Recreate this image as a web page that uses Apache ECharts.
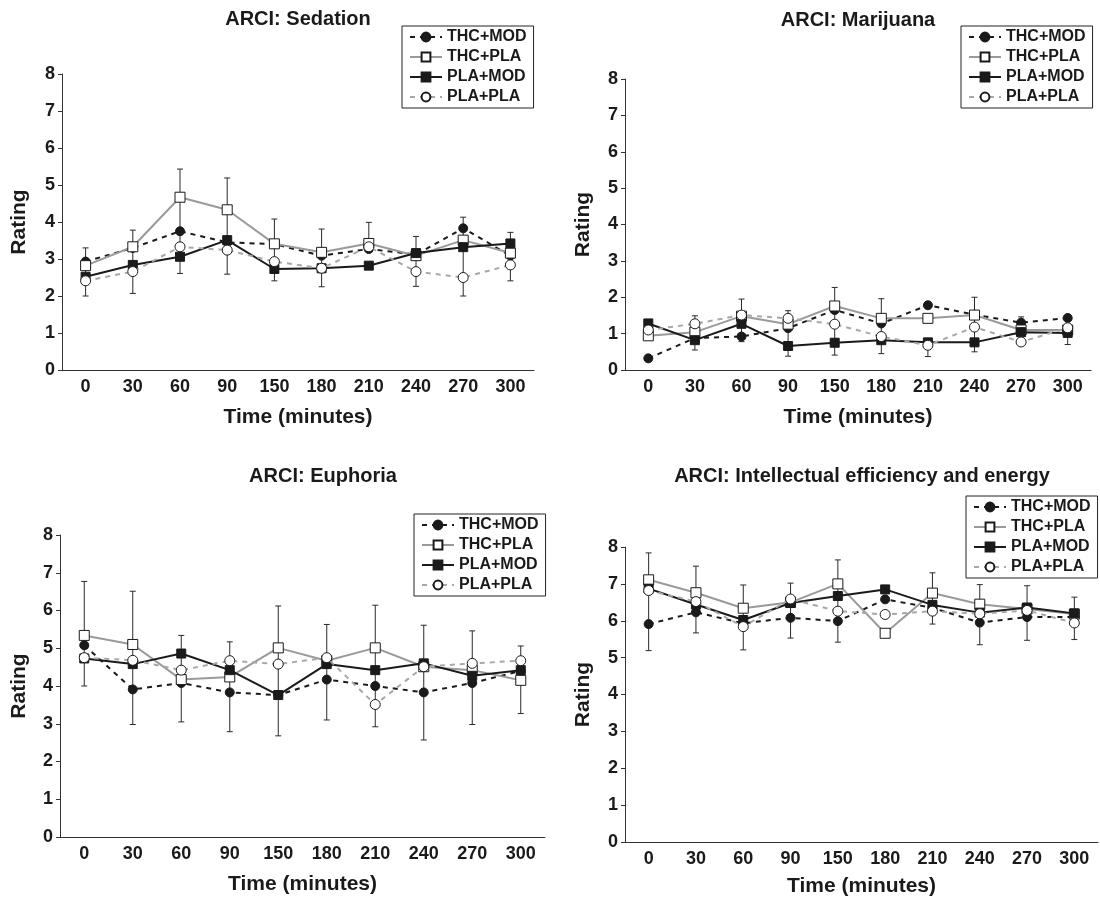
<!DOCTYPE html>
<html>
<head>
<meta charset="utf-8">
<script src="https://cdn.jsdelivr.net/npm/echarts@6/dist/echarts.min.js"></script>
<style>
  html, body { margin: 0; padding: 0; background: #fff; }
  #chart { width: 1100px; height: 900px; }
</style>
</head>
<body>
<div id="chart"></div>
<script>
// time points (minutes)
const times = ['0', '30', '60', '90', '150', '180', '210', '240', '270', '300']
const groups = ['THC+MOD', 'THC+PLA', 'PLA+MOD', 'PLA+PLA']
const panelTitles = ['ARCI: Sedation', 'ARCI: Marijuana', 'ARCI: Euphoria', 'ARCI: Intellectual efficiency and energy']
const yTicks = [0, 8, 1] // min, max, interval

// Sedation
const sedThcMod = [2.93, 3.30, 3.75, 3.45, 3.40, 3.09, 3.27, 3.12, 3.83, 3.09]
const sedThcPla = [2.82, 3.33, 4.67, 4.33, 3.41, 3.18, 3.42, 3.09, 3.51, 3.16]
const sedPlaMod = [2.52, 2.84, 3.06, 3.51, 2.73, 2.75, 2.82, 3.16, 3.32, 3.42]
const sedPlaPla = [2.41, 2.66, 3.33, 3.24, 2.93, 2.75, 3.33, 2.66, 2.50, 2.84]
const sedErrTop = [3.30, 3.78, 5.43, 5.19, 4.08, 3.81, 3.99, 3.61, 4.13, 3.72]
const sedErrBottom = [2.00, 2.07, 2.61, 2.59, 2.41, 2.25, null, 2.26, 2.00, 2.41]

// Marijuana
const marThcMod = [0.32, 0.88, 0.92, 1.15, 1.65, 1.28, 1.78, 1.52, 1.30, 1.43]
const marThcPla = [0.94, 1.04, 1.48, 1.26, 1.76, 1.42, 1.42, 1.51, 1.10, 1.10]
const marPlaMod = [1.28, 0.82, 1.27, 0.66, 0.75, 0.82, 0.76, 0.76, 1.04, 1.02]
const marPlaPla = [1.10, 1.27, 1.51, 1.42, 1.26, 0.92, 0.68, 1.18, 0.77, 1.16]
const marErrTop = [null, 1.49, 1.95, 1.63, 2.27, 1.96, null, 2.00, 1.46, null]
const marErrBottom = [null, 0.55, 0.78, 0.38, 0.41, 0.45, 0.37, 0.50, null, 0.70]

// Euphoria
const eupThcMod = [5.08, 3.91, 4.08, 3.83, 3.76, 4.17, 4.00, 3.83, 4.08, 4.40]
const eupThcPla = [5.34, 5.10, 4.17, 4.24, 5.01, 4.67, 5.01, 4.51, 4.42, 4.15]
const eupPlaMod = [4.73, 4.58, 4.86, 4.42, 3.76, 4.58, 4.42, 4.60, 4.27, 4.42]
const eupPlaPla = [4.75, 4.68, 4.42, 4.67, 4.58, 4.75, 3.51, 4.51, 4.60, 4.67]
const eupErrTop = [6.77, 6.51, 5.34, 5.17, 6.12, 5.63, 6.14, 5.61, 5.46, 5.06]
const eupErrBottom = [4.00, 2.98, 3.05, 2.79, 2.68, 3.10, 2.92, 2.57, 2.98, 3.27]

// Intellectual efficiency and energy
const ieeThcMod = [5.91, 6.23, 5.93, 6.08, 5.99, 6.58, 6.35, 5.95, 6.10, 6.10]
const ieeThcPla = [7.11, 6.76, 6.34, 6.50, 7.00, 5.66, 6.75, 6.45, 6.32, 6.18]
const ieePlaMod = [6.87, 6.44, 6.02, 6.48, 6.67, 6.85, 6.43, 6.22, 6.36, 6.20]
const ieePlaPla = [6.82, 6.52, 5.84, 6.59, 6.26, 6.17, 6.26, 6.19, 6.28, 5.94]
const ieeErrTop = [7.84, 7.48, 6.97, 7.02, 7.65, null, 7.30, 6.98, 6.95, 6.64]
const ieeErrBottom = [5.19, 5.67, 5.21, 5.53, 5.42, null, 5.91, 5.35, 5.47, 5.49]

const FONT = "'Liberation Sans', Arial, sans-serif"
const INK = '#1a1a1a'

const panels = [
  {
    series: [sedThcMod, sedThcPla, sedPlaMod, sedPlaPla], top: sedErrTop, bottom: sedErrBottom,
    grid: { left: 62, top: 74, width: 472, height: 296 },
    title: { x: 298, y: 9 }, legend: { left: 402, top: 26 },
    yGap: 32, xGap: 37,
  },
  {
    series: [marThcMod, marThcPla, marPlaMod, marPlaPla], top: marErrTop, bottom: marErrBottom,
    grid: { left: 625, top: 79, width: 466, height: 291 },
    title: { x: 858, y: 10 }, legend: { left: 961, top: 26 },
    yGap: 31, xGap: 37,
  },
  {
    series: [eupThcMod, eupThcPla, eupPlaMod, eupPlaPla], top: eupErrTop, bottom: eupErrBottom,
    grid: { left: 60, top: 535, width: 485, height: 302 },
    title: { x: 323, y: 466 }, legend: { left: 414, top: 514 },
    yGap: 30, xGap: 37,
  },
  {
    series: [ieeThcMod, ieeThcPla, ieePlaMod, ieePlaPla], top: ieeErrTop, bottom: ieeErrBottom,
    grid: { left: 625, top: 547, width: 473, height: 295 },
    title: { x: 862, y: 466 }, legend: { left: 966, top: 496 },
    yGap: 31, xGap: 34,
  },
]

// line + marker look of each group
const groupStyles = [
  { symbol: 'circle', symbolSize: 9, fill: INK, line: INK, dash: [5, 5] },
  { symbol: 'rect', symbolSize: 10, fill: '#fff', line: '#9a9a9a', dash: 'solid' },
  { symbol: 'rect', symbolSize: 9, fill: INK, line: INK, dash: 'solid' },
  { symbol: 'circle', symbolSize: 10, fill: '#fff', line: '#a8a8a8', dash: [5, 5] },
]

// an error bar runs from its cap to the point it belongs to
const buildErrors = (seriesList, tops, bottoms) => {
  const out = []
  times.forEach((t, i) => {
    const vals = seriesList.map((s) => s[i])
    const top = tops[i]
    const bottom = bottoms[i]
    if (top == null && bottom == null) return
    const hi = top != null ? top : Math.min(...vals)
    const lo = bottom != null ? bottom : Math.max(...vals)
    out.push([i, lo, hi, bottom != null ? 1 : 0, top != null ? 1 : 0])
  })
  return out
}

const renderError = (params, api) => {
  const i = api.value(0)
  const lo = api.coord([i, api.value(1)])
  const hi = api.coord([i, api.value(2)])
  const style = { stroke: '#2a2a2a', lineWidth: 1 }
  const children = [
    { type: 'line', shape: { x1: lo[0], y1: lo[1], x2: hi[0], y2: hi[1] }, style },
  ]
  if (api.value(3)) {
    children.push({ type: 'line', shape: { x1: lo[0] - 3, y1: lo[1], x2: lo[0] + 3, y2: lo[1] }, style })
  }
  if (api.value(4)) {
    children.push({ type: 'line', shape: { x1: hi[0] - 3, y1: hi[1], x2: hi[0] + 3, y2: hi[1] }, style })
  }
  return { type: 'group', children }
}

const axisText = { color: INK, fontFamily: FONT, fontWeight: 'bold' }

const option = {
  animation: false,
  backgroundColor: '#fff',
  title: panels.map((p, k) => ({
    text: panelTitles[k],
    left: p.title.x,
    top: p.title.y,
    textAlign: 'center',
    padding: 0,
    textStyle: { ...axisText, fontSize: 20 },
  })),
  legend: panels.map((p) => ({
    orient: 'vertical',
    left: p.legend.left,
    top: p.legend.top,
    data: groups,
    itemWidth: 32,
    itemHeight: 11,
    itemGap: 4,
    padding: [3, 7, 3, 7],
    borderColor: '#222',
    borderWidth: 1,
    backgroundColor: '#fff',
    selectedMode: false,
    textStyle: { ...axisText, fontSize: 16 },
  })),
  grid: panels.map((p) => p.grid),
  xAxis: panels.map((p, k) => ({
    type: 'category',
    gridIndex: k,
    data: times,
    name: 'Time (minutes)',
    nameLocation: 'middle',
    nameGap: p.xGap,
    nameTextStyle: { ...axisText, fontSize: 21 },
    axisLine: { lineStyle: { color: '#333', width: 1 } },
    axisTick: { length: 5, lineStyle: { color: '#333' } },
    axisLabel: { ...axisText, fontSize: 18, margin: 8 },
  })),
  yAxis: panels.map((p, k) => ({
    type: 'value',
    gridIndex: k,
    min: yTicks[0],
    max: yTicks[1],
    interval: yTicks[2],
    name: 'Rating',
    nameLocation: 'middle',
    nameGap: p.yGap,
    nameTextStyle: { ...axisText, fontSize: 21 },
    splitLine: { show: false },
    axisLine: { show: true, lineStyle: { color: '#333', width: 1 } },
    axisTick: { show: true, length: 4, lineStyle: { color: '#333' } },
    axisLabel: { ...axisText, fontSize: 18, margin: 7 },
  })),
  series: [],
}

panels.forEach((p, k) => {
  option.series.push({
    type: 'custom',
    xAxisIndex: k,
    yAxisIndex: k,
    z: 1,
    silent: true,
    renderItem: renderError,
    encode: { x: 0, y: [1, 2] },
    data: buildErrors(p.series, p.top, p.bottom),
  })
  p.series.forEach((values, g) => {
    const st = groupStyles[g]
    option.series.push({
      name: groups[g],
      type: 'line',
      xAxisIndex: k,
      yAxisIndex: k,
      z: 2 + g,
      data: values,
      symbol: st.symbol,
      symbolSize: st.symbolSize,
      showSymbol: true,
      lineStyle: { color: st.line, width: 2, type: st.dash },
      itemStyle: { color: st.fill, borderColor: INK, borderWidth: 1 },
    })
  })
})

const myChart = echarts.init(document.getElementById('chart'))
myChart.setOption(option)
</script>
</body>
</html>
